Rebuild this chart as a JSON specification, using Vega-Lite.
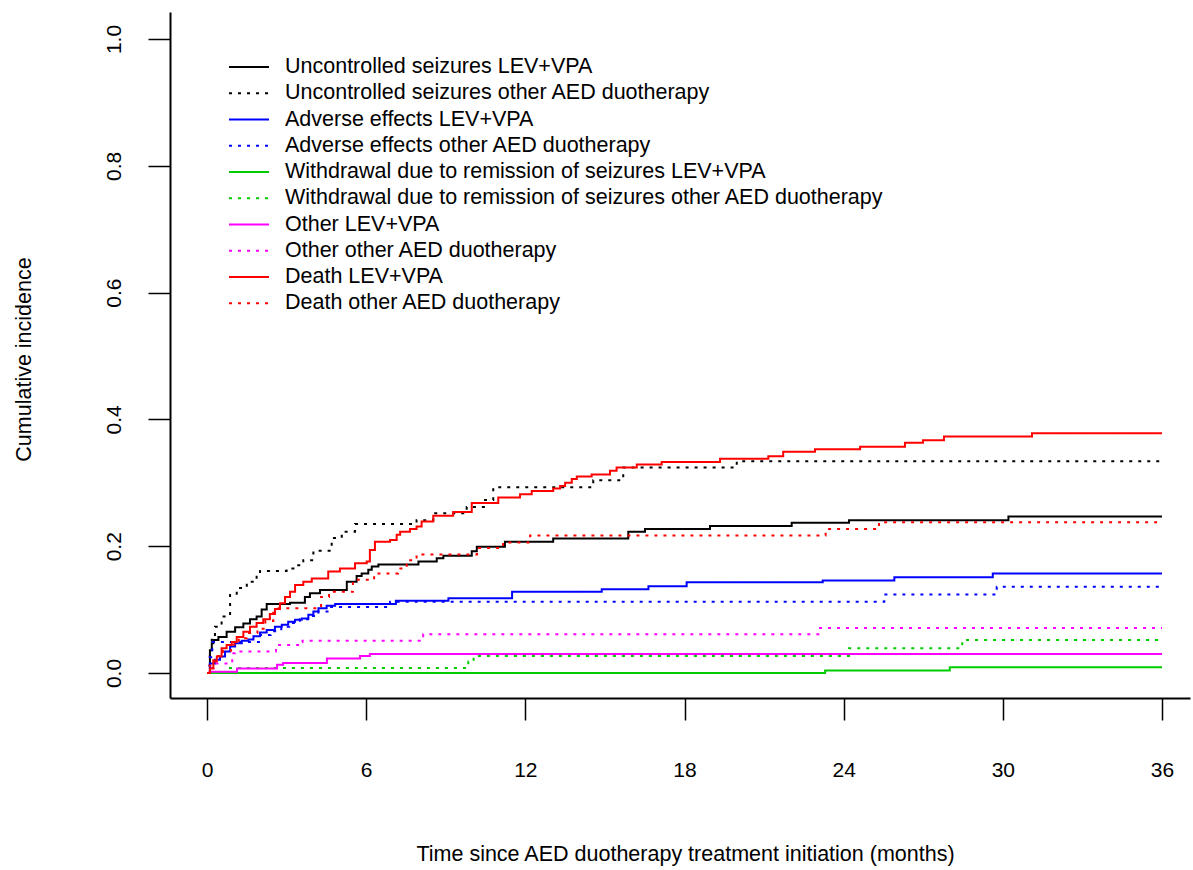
{
  "$schema": "https://vega.github.io/schema/vega-lite/v6.json",
  "width": 1020,
  "height": 686,
  "autosize": {"type": "none"},
  "padding": {"left": 170, "top": 12, "right": 3, "bottom": 172},
  "background": "white",
  "config": {
    "view": {"stroke": null},
    "font": "Liberation Sans",
    "axis": {"labelFlush": false, "labelOverlap": false, "grid": false, "domainColor": "black", "domainWidth": 2, "tickColor": "black", "tickWidth": 1.5, "labelColor": "black", "titleColor": "black", "labelFont": "Liberation Sans", "titleFont": "Liberation Sans", "labelFontSize": 21, "titleFontSize": 21.5, "titleFontWeight": "normal"}
  },
  "data": {"values": [
    {"s":"Uncontrolled seizures LEV+VPA","t":0,"v":0},{"s":"Uncontrolled seizures LEV+VPA","t":0.11,"v":0.036},{"s":"Uncontrolled seizures LEV+VPA","t":0.18,"v":0.047},{"s":"Uncontrolled seizures LEV+VPA","t":0.24,"v":0.052},{"s":"Uncontrolled seizures LEV+VPA","t":0.43,"v":0.057},{"s":"Uncontrolled seizures LEV+VPA","t":0.74,"v":0.065},{"s":"Uncontrolled seizures LEV+VPA","t":1.06,"v":0.072},{"s":"Uncontrolled seizures LEV+VPA","t":1.37,"v":0.078},{"s":"Uncontrolled seizures LEV+VPA","t":1.62,"v":0.085},{"s":"Uncontrolled seizures LEV+VPA","t":1.87,"v":0.089},{"s":"Uncontrolled seizures LEV+VPA","t":2.06,"v":0.1},{"s":"Uncontrolled seizures LEV+VPA","t":2.25,"v":0.109},{"s":"Uncontrolled seizures LEV+VPA","t":3.13,"v":0.111},{"s":"Uncontrolled seizures LEV+VPA","t":3.69,"v":0.12},{"s":"Uncontrolled seizures LEV+VPA","t":3.88,"v":0.126},{"s":"Uncontrolled seizures LEV+VPA","t":4.26,"v":0.131},{"s":"Uncontrolled seizures LEV+VPA","t":5.27,"v":0.144},{"s":"Uncontrolled seizures LEV+VPA","t":5.64,"v":0.153},{"s":"Uncontrolled seizures LEV+VPA","t":5.83,"v":0.157},{"s":"Uncontrolled seizures LEV+VPA","t":6.08,"v":0.163},{"s":"Uncontrolled seizures LEV+VPA","t":6.21,"v":0.168},{"s":"Uncontrolled seizures LEV+VPA","t":6.46,"v":0.171},{"s":"Uncontrolled seizures LEV+VPA","t":7.97,"v":0.176},{"s":"Uncontrolled seizures LEV+VPA","t":8.66,"v":0.181},{"s":"Uncontrolled seizures LEV+VPA","t":8.91,"v":0.185},{"s":"Uncontrolled seizures LEV+VPA","t":9.98,"v":0.192},{"s":"Uncontrolled seizures LEV+VPA","t":10.17,"v":0.199},{"s":"Uncontrolled seizures LEV+VPA","t":11.23,"v":0.207},{"s":"Uncontrolled seizures LEV+VPA","t":13.05,"v":0.212},{"s":"Uncontrolled seizures LEV+VPA","t":15.88,"v":0.223},{"s":"Uncontrolled seizures LEV+VPA","t":16.51,"v":0.227},{"s":"Uncontrolled seizures LEV+VPA","t":18.96,"v":0.232},{"s":"Uncontrolled seizures LEV+VPA","t":22.04,"v":0.237},{"s":"Uncontrolled seizures LEV+VPA","t":24.2,"v":0.241},{"s":"Uncontrolled seizures LEV+VPA","t":30.21,"v":0.247},{"s":"Uncontrolled seizures LEV+VPA","t":36,"v":0.247},
    {"s":"Uncontrolled seizures other AED duotherapy","t":0,"v":0},{"s":"Uncontrolled seizures other AED duotherapy","t":0.11,"v":0.032},{"s":"Uncontrolled seizures other AED duotherapy","t":0.18,"v":0.057},{"s":"Uncontrolled seizures other AED duotherapy","t":0.3,"v":0.073},{"s":"Uncontrolled seizures other AED duotherapy","t":0.55,"v":0.089},{"s":"Uncontrolled seizures other AED duotherapy","t":0.87,"v":0.123},{"s":"Uncontrolled seizures other AED duotherapy","t":1.12,"v":0.134},{"s":"Uncontrolled seizures other AED duotherapy","t":1.5,"v":0.144},{"s":"Uncontrolled seizures other AED duotherapy","t":1.87,"v":0.152},{"s":"Uncontrolled seizures other AED duotherapy","t":2.0,"v":0.161},{"s":"Uncontrolled seizures other AED duotherapy","t":3.0,"v":0.165},{"s":"Uncontrolled seizures other AED duotherapy","t":3.32,"v":0.17},{"s":"Uncontrolled seizures other AED duotherapy","t":3.63,"v":0.178},{"s":"Uncontrolled seizures other AED duotherapy","t":4.01,"v":0.193},{"s":"Uncontrolled seizures other AED duotherapy","t":4.7,"v":0.213},{"s":"Uncontrolled seizures other AED duotherapy","t":5.08,"v":0.223},{"s":"Uncontrolled seizures other AED duotherapy","t":5.58,"v":0.235},{"s":"Uncontrolled seizures other AED duotherapy","t":7.9,"v":0.241},{"s":"Uncontrolled seizures other AED duotherapy","t":8.53,"v":0.252},{"s":"Uncontrolled seizures other AED duotherapy","t":9.79,"v":0.262},{"s":"Uncontrolled seizures other AED duotherapy","t":10.48,"v":0.273},{"s":"Uncontrolled seizures other AED duotherapy","t":10.79,"v":0.293},{"s":"Uncontrolled seizures other AED duotherapy","t":14.56,"v":0.304},{"s":"Uncontrolled seizures other AED duotherapy","t":15.69,"v":0.324},{"s":"Uncontrolled seizures other AED duotherapy","t":19.97,"v":0.334},{"s":"Uncontrolled seizures other AED duotherapy","t":36,"v":0.334},
    {"s":"Adverse effects LEV+VPA","t":0,"v":0},{"s":"Adverse effects LEV+VPA","t":0.11,"v":0.015},{"s":"Adverse effects LEV+VPA","t":0.3,"v":0.021},{"s":"Adverse effects LEV+VPA","t":0.49,"v":0.026},{"s":"Adverse effects LEV+VPA","t":0.68,"v":0.034},{"s":"Adverse effects LEV+VPA","t":0.87,"v":0.042},{"s":"Adverse effects LEV+VPA","t":1.06,"v":0.047},{"s":"Adverse effects LEV+VPA","t":1.31,"v":0.051},{"s":"Adverse effects LEV+VPA","t":1.56,"v":0.053},{"s":"Adverse effects LEV+VPA","t":1.75,"v":0.058},{"s":"Adverse effects LEV+VPA","t":2.0,"v":0.064},{"s":"Adverse effects LEV+VPA","t":2.25,"v":0.068},{"s":"Adverse effects LEV+VPA","t":2.56,"v":0.073},{"s":"Adverse effects LEV+VPA","t":2.82,"v":0.076},{"s":"Adverse effects LEV+VPA","t":3.06,"v":0.081},{"s":"Adverse effects LEV+VPA","t":3.32,"v":0.084},{"s":"Adverse effects LEV+VPA","t":3.57,"v":0.086},{"s":"Adverse effects LEV+VPA","t":3.82,"v":0.092},{"s":"Adverse effects LEV+VPA","t":4.01,"v":0.097},{"s":"Adverse effects LEV+VPA","t":4.2,"v":0.102},{"s":"Adverse effects LEV+VPA","t":4.51,"v":0.106},{"s":"Adverse effects LEV+VPA","t":4.83,"v":0.109},{"s":"Adverse effects LEV+VPA","t":7.12,"v":0.114},{"s":"Adverse effects LEV+VPA","t":9.1,"v":0.118},{"s":"Adverse effects LEV+VPA","t":11.5,"v":0.128},{"s":"Adverse effects LEV+VPA","t":14.88,"v":0.132},{"s":"Adverse effects LEV+VPA","t":16.64,"v":0.137},{"s":"Adverse effects LEV+VPA","t":18.08,"v":0.143},{"s":"Adverse effects LEV+VPA","t":23.21,"v":0.146},{"s":"Adverse effects LEV+VPA","t":25.91,"v":0.151},{"s":"Adverse effects LEV+VPA","t":29.62,"v":0.157},{"s":"Adverse effects LEV+VPA","t":36,"v":0.157},
    {"s":"Adverse effects other AED duotherapy","t":0,"v":0},{"s":"Adverse effects other AED duotherapy","t":0.1,"v":0.025},{"s":"Adverse effects other AED duotherapy","t":0.2,"v":0.049},{"s":"Adverse effects other AED duotherapy","t":2.0,"v":0.06},{"s":"Adverse effects other AED duotherapy","t":2.4,"v":0.066},{"s":"Adverse effects other AED duotherapy","t":2.8,"v":0.073},{"s":"Adverse effects other AED duotherapy","t":3.1,"v":0.079},{"s":"Adverse effects other AED duotherapy","t":3.5,"v":0.085},{"s":"Adverse effects other AED duotherapy","t":3.9,"v":0.09},{"s":"Adverse effects other AED duotherapy","t":4.2,"v":0.097},{"s":"Adverse effects other AED duotherapy","t":4.6,"v":0.104},{"s":"Adverse effects other AED duotherapy","t":6.9,"v":0.1125},{"s":"Adverse effects other AED duotherapy","t":25.53,"v":0.124},{"s":"Adverse effects other AED duotherapy","t":29.77,"v":0.136},{"s":"Adverse effects other AED duotherapy","t":36,"v":0.136},
    {"s":"Withdrawal due to remission of seizures LEV+VPA","t":0,"v":0},{"s":"Withdrawal due to remission of seizures LEV+VPA","t":23.3,"v":0.004},{"s":"Withdrawal due to remission of seizures LEV+VPA","t":28.0,"v":0.009},{"s":"Withdrawal due to remission of seizures LEV+VPA","t":36,"v":0.009},
    {"s":"Withdrawal due to remission of seizures other AED duotherapy","t":0,"v":0},{"s":"Withdrawal due to remission of seizures other AED duotherapy","t":0.74,"v":0.008},{"s":"Withdrawal due to remission of seizures other AED duotherapy","t":9.85,"v":0.018},{"s":"Withdrawal due to remission of seizures other AED duotherapy","t":10.05,"v":0.027},{"s":"Withdrawal due to remission of seizures other AED duotherapy","t":24.2,"v":0.039},{"s":"Withdrawal due to remission of seizures other AED duotherapy","t":28.47,"v":0.052},{"s":"Withdrawal due to remission of seizures other AED duotherapy","t":36,"v":0.052},
    {"s":"Other LEV+VPA","t":0,"v":0},{"s":"Other LEV+VPA","t":0.1,"v":0.002},{"s":"Other LEV+VPA","t":1.13,"v":0.007},{"s":"Other LEV+VPA","t":2.64,"v":0.013},{"s":"Other LEV+VPA","t":2.87,"v":0.016},{"s":"Other LEV+VPA","t":4.52,"v":0.023},{"s":"Other LEV+VPA","t":5.77,"v":0.027},{"s":"Other LEV+VPA","t":6.14,"v":0.03},{"s":"Other LEV+VPA","t":36,"v":0.03},
    {"s":"Other other AED duotherapy","t":0,"v":0},{"s":"Other other AED duotherapy","t":0.1,"v":0.008},{"s":"Other other AED duotherapy","t":0.25,"v":0.015},{"s":"Other other AED duotherapy","t":0.95,"v":0.031},{"s":"Other other AED duotherapy","t":1.05,"v":0.034},{"s":"Other other AED duotherapy","t":2.6,"v":0.044},{"s":"Other other AED duotherapy","t":3.5,"v":0.049},{"s":"Other other AED duotherapy","t":3.6,"v":0.051},{"s":"Other other AED duotherapy","t":8.15,"v":0.061},{"s":"Other other AED duotherapy","t":23.11,"v":0.071},{"s":"Other other AED duotherapy","t":36,"v":0.071},
    {"s":"Death LEV+VPA","t":0,"v":0},{"s":"Death LEV+VPA","t":0.11,"v":0.007},{"s":"Death LEV+VPA","t":0.24,"v":0.018},{"s":"Death LEV+VPA","t":0.37,"v":0.026},{"s":"Death LEV+VPA","t":0.55,"v":0.039},{"s":"Death LEV+VPA","t":0.74,"v":0.044},{"s":"Death LEV+VPA","t":0.93,"v":0.049},{"s":"Death LEV+VPA","t":1.12,"v":0.057},{"s":"Death LEV+VPA","t":1.37,"v":0.065},{"s":"Death LEV+VPA","t":1.62,"v":0.073},{"s":"Death LEV+VPA","t":1.87,"v":0.079},{"s":"Death LEV+VPA","t":2.12,"v":0.085},{"s":"Death LEV+VPA","t":2.37,"v":0.093},{"s":"Death LEV+VPA","t":2.56,"v":0.101},{"s":"Death LEV+VPA","t":2.75,"v":0.11},{"s":"Death LEV+VPA","t":2.94,"v":0.12},{"s":"Death LEV+VPA","t":3.13,"v":0.128},{"s":"Death LEV+VPA","t":3.32,"v":0.139},{"s":"Death LEV+VPA","t":3.63,"v":0.144},{"s":"Death LEV+VPA","t":3.95,"v":0.149},{"s":"Death LEV+VPA","t":4.57,"v":0.16},{"s":"Death LEV+VPA","t":5.01,"v":0.165},{"s":"Death LEV+VPA","t":5.58,"v":0.173},{"s":"Death LEV+VPA","t":6.02,"v":0.176},{"s":"Death LEV+VPA","t":6.14,"v":0.194},{"s":"Death LEV+VPA","t":6.33,"v":0.207},{"s":"Death LEV+VPA","t":6.9,"v":0.21},{"s":"Death LEV+VPA","t":7.15,"v":0.218},{"s":"Death LEV+VPA","t":7.28,"v":0.223},{"s":"Death LEV+VPA","t":7.65,"v":0.227},{"s":"Death LEV+VPA","t":7.9,"v":0.231},{"s":"Death LEV+VPA","t":8.09,"v":0.239},{"s":"Death LEV+VPA","t":8.53,"v":0.248},{"s":"Death LEV+VPA","t":9.28,"v":0.254},{"s":"Death LEV+VPA","t":9.98,"v":0.268},{"s":"Death LEV+VPA","t":10.98,"v":0.277},{"s":"Death LEV+VPA","t":11.8,"v":0.282},{"s":"Death LEV+VPA","t":12.24,"v":0.287},{"s":"Death LEV+VPA","t":13.05,"v":0.291},{"s":"Death LEV+VPA","t":13.31,"v":0.295},{"s":"Death LEV+VPA","t":13.5,"v":0.3},{"s":"Death LEV+VPA","t":13.75,"v":0.306},{"s":"Death LEV+VPA","t":13.94,"v":0.31},{"s":"Death LEV+VPA","t":14.5,"v":0.313},{"s":"Death LEV+VPA","t":15.19,"v":0.319},{"s":"Death LEV+VPA","t":15.44,"v":0.324},{"s":"Death LEV+VPA","t":16.2,"v":0.329},{"s":"Death LEV+VPA","t":17.14,"v":0.333},{"s":"Death LEV+VPA","t":19.34,"v":0.338},{"s":"Death LEV+VPA","t":21.16,"v":0.342},{"s":"Death LEV+VPA","t":21.72,"v":0.349},{"s":"Death LEV+VPA","t":22.92,"v":0.353},{"s":"Death LEV+VPA","t":24.62,"v":0.357},{"s":"Death LEV+VPA","t":26.31,"v":0.363},{"s":"Death LEV+VPA","t":26.99,"v":0.367},{"s":"Death LEV+VPA","t":27.78,"v":0.373},{"s":"Death LEV+VPA","t":31.1,"v":0.378},{"s":"Death LEV+VPA","t":36,"v":0.378},
    {"s":"Death other AED duotherapy","t":0,"v":0},{"s":"Death other AED duotherapy","t":0.1,"v":0.012},{"s":"Death other AED duotherapy","t":0.2,"v":0.02},{"s":"Death other AED duotherapy","t":0.35,"v":0.027},{"s":"Death other AED duotherapy","t":0.6,"v":0.035},{"s":"Death other AED duotherapy","t":0.9,"v":0.045},{"s":"Death other AED duotherapy","t":1.2,"v":0.055},{"s":"Death other AED duotherapy","t":1.5,"v":0.063},{"s":"Death other AED duotherapy","t":1.9,"v":0.07},{"s":"Death other AED duotherapy","t":2.2,"v":0.082},{"s":"Death other AED duotherapy","t":2.5,"v":0.095},{"s":"Death other AED duotherapy","t":2.7,"v":0.102},{"s":"Death other AED duotherapy","t":4.3,"v":0.12},{"s":"Death other AED duotherapy","t":4.6,"v":0.128},{"s":"Death other AED duotherapy","t":5.5,"v":0.147},{"s":"Death other AED duotherapy","t":6.3,"v":0.157},{"s":"Death other AED duotherapy","t":7.2,"v":0.165},{"s":"Death other AED duotherapy","t":7.53,"v":0.178},{"s":"Death other AED duotherapy","t":7.9,"v":0.187},{"s":"Death other AED duotherapy","t":10.18,"v":0.197},{"s":"Death other AED duotherapy","t":11.16,"v":0.206},{"s":"Death other AED duotherapy","t":12.18,"v":0.217},{"s":"Death other AED duotherapy","t":23.32,"v":0.227},{"s":"Death other AED duotherapy","t":25.33,"v":0.238},{"s":"Death other AED duotherapy","t":36,"v":0.238}
  ]},
  "mark": {"type": "line", "interpolate": "step-after", "strokeWidth": 2},
  "encoding": {
    "x": {"field": "t", "type": "quantitative",
      "scale": {"domain": [-1.395, 37.055], "nice": false, "zero": false},
      "axis": {"values": [0, 6, 12, 18, 24, 30, 36], "tickSize": 22, "labelPadding": 39, "labelAngle": 0, "title": "Time since AED duotherapy treatment initiation (months)", "titlePadding": 63, "titleX": 515}},
    "y": {"field": "v", "type": "quantitative",
      "scale": {"domain": [-0.0394, 1.0426], "nice": false, "zero": false},
      "axis": {"values": [0, 0.2, 0.4, 0.6, 0.8, 1], "format": ".1f", "tickSize": 22, "labelAngle": 270, "labelAlign": "center", "labelBaseline": "bottom", "labelPadding": 24, "title": "Cumulative incidence", "titlePadding": 68, "titleY": 347}},
    "color": {"field": "s", "type": "nominal",
      "scale": {"domain": ["Uncontrolled seizures LEV+VPA", "Uncontrolled seizures other AED duotherapy", "Adverse effects LEV+VPA", "Adverse effects other AED duotherapy", "Withdrawal due to remission of seizures LEV+VPA", "Withdrawal due to remission of seizures other AED duotherapy", "Other LEV+VPA", "Other other AED duotherapy", "Death LEV+VPA", "Death other AED duotherapy"],
        "range": ["#000000", "#000000", "#0000FF", "#0000FF", "#00CD00", "#00CD00", "#FF00FF", "#FF00FF", "#FF0000", "#FF0000"]},
      "legend": {"orient": "none", "legendX": 58, "legendY": 42, "title": null, "symbolType": "stroke", "symbolSize": 1600, "symbolStrokeWidth": 2, "labelFontSize": 21.5, "labelFont": "Liberation Sans", "labelColor": "black", "labelOffset": 15, "rowPadding": 0.25, "clipHeight": 26, "labelLimit": 1000, "padding": 0}},
    "strokeDash": {"field": "s", "type": "nominal",
      "scale": {"domain": ["Uncontrolled seizures LEV+VPA", "Uncontrolled seizures other AED duotherapy", "Adverse effects LEV+VPA", "Adverse effects other AED duotherapy", "Withdrawal due to remission of seizures LEV+VPA", "Withdrawal due to remission of seizures other AED duotherapy", "Other LEV+VPA", "Other other AED duotherapy", "Death LEV+VPA", "Death other AED duotherapy"],
        "range": [[1, 0], [3, 6], [1, 0], [3, 6], [1, 0], [3, 6], [1, 0], [3, 6], [1, 0], [3, 6]]}}
  }
}
